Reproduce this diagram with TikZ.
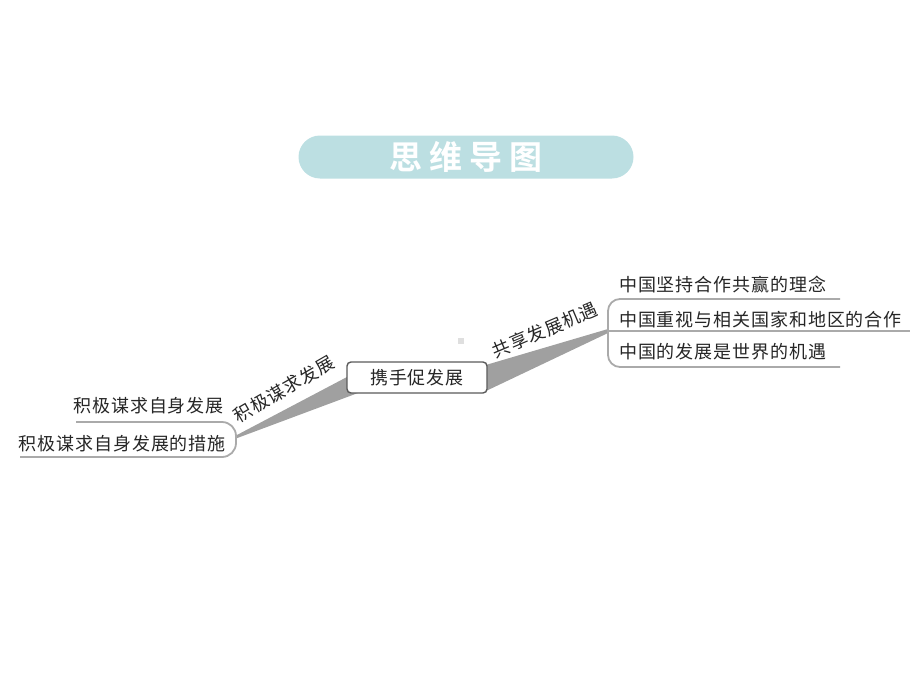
\documentclass[tikz,border=0pt]{standalone}
\usepackage{fontspec}
\newfontfamily\cjk[LetterSpace=5]{Noto Sans CJK SC}
\newfontfamily\cjkbf{Noto Sans CJK SC Bold}
\usetikzlibrary{calc,backgrounds}
\definecolor{pill}{RGB}{188,223,226}
\definecolor{wedge}{RGB}{160,160,160}
\definecolor{rule}{RGB}{170,170,170}
\definecolor{boxline}{RGB}{90,90,90}

\begin{document}
\begin{tikzpicture}[x=1pt,y=-1pt,line join=round,
                    font=\cjk\fontsize{18}{20}\selectfont]
  \tikzstyle{every node}=[inner sep=0pt,text=black!85]
  \tikzstyle{topic}=[draw=boxline,line width=1.4pt,rounded corners=4pt,fill=white,
                     minimum width=140pt,minimum height=31pt]
  \tikzstyle{branch}=[fill=wedge,draw=none]
  \tikzstyle{bracket}=[draw=rule,line width=1.8pt,rounded corners=12pt]
  \tikzstyle{leaf}=[anchor=west]
\useasboundingbox (0,0) rectangle (920,690);

\node [fill=pill,rounded corners=21.5pt,minimum width=335pt,minimum height=43pt,
       font=\cjkbf\fontsize{33}{36}\selectfont,text=white] (title) at (466,157)
      {思\hspace{7pt}维\hspace{7pt}导\hspace{7pt}图};

\coordinate (lj) at (236,437);
\coordinate (rj) at (608,331);
\node [topic] (hub) at (417,377.5) {携手促发展};

% main branches
\begin{scope}[on background layer]
\fill [branch] ($(lj)+(0,-1.5)$) -- ($(hub.west)+(13,-7)$) -- ($(hub.west)+(13,15)$)
      -- ($(lj)+(0,1.5)$) -- cycle;
\fill [branch] ($(rj)+(0,-2)$) -- ($(hub.east)+(-7,-11)$) -- ($(hub.east)+(-7,16)$)
      -- ($(rj)+(0,2)$) -- cycle;
\end{scope}
\node [rotate=30] (lb) at (284,389) {积极谋求发展};
\node [rotate=23] (rb) at (545,330) {共享发展机遇};

% right leaves
\node [leaf] (r1) at (619,285) {中国坚持合作共赢的理念};
\node [leaf] (r2) at (619,320) {中国重视与相关国家和地区的合作};
\node [leaf] (r3) at (619,352) {中国的发展是世界的机遇};
\draw [bracket] (840,299) -- (rj |- 0,299) -- (rj |- 0,367) -- (840,367);
\draw [draw=rule,line width=1.8pt] (rj) -- (910,331);

% left leaves
\node [anchor=east] (l1) at (224,406) {积极谋求自身发展};
\node [anchor=east] (l2) at (226,444) {积极谋求自身发展的措施};
\draw [bracket,rounded corners=14pt] (76,422) -- (lj |- 0,422) -- (lj |- 0,457) -- (20,457);

\fill [gray!25] (458,338) rectangle (464,344);
\end{tikzpicture}
\end{document}
